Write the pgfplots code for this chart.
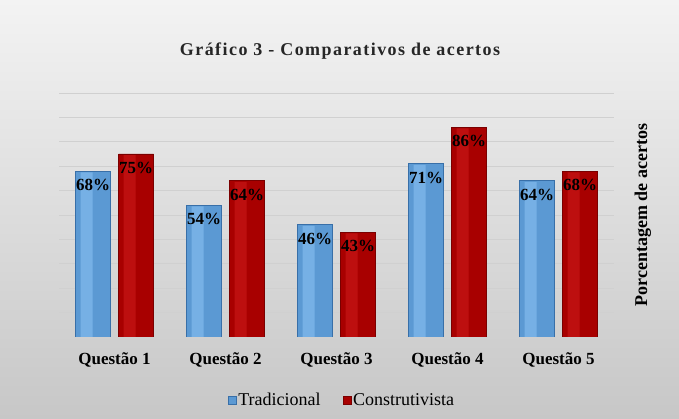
\documentclass[border=0pt]{standalone}
\usepackage{fontspec}
\setmainfont{Liberation Serif}
\newfontfamily\titlefont[LetterSpace=8]{Liberation Serif}
\usepackage{pgfplots}
\pgfplotsset{compat=1.18}
\definecolor{bgtop}{HTML}{F3F3F3}
\definecolor{bgbot}{HTML}{C7C7C7}
\definecolor{gridc}{HTML}{D0D0D0}
\definecolor{bluM}{HTML}{5B99D3}
\definecolor{bluL}{HTML}{80B9EC}
\definecolor{bluD}{HTML}{386FA8}
\definecolor{redM}{HTML}{A80000}
\definecolor{redL}{HTML}{CC1A1A}
\definecolor{redD}{HTML}{7A0000}

\begin{document}
\begin{tikzpicture}
\shade[top color=bgtop, bottom color=bgbot] (0,0) rectangle (679pt,419pt);
\node[font=\titlefont\bfseries\fontsize{18}{21}\selectfont, text=black!85] at (340pt,368pt) {Gráfico 3 - Comparativos de acertos};
\begin{axis}[
  at={(59pt,82pt)}, anchor=south west,
  scale only axis, width=555pt, height=244pt,
  ybar, bar width=35pt,
  xmin=-0.5, xmax=4.5, ymin=0, ymax=100,
  xtick={0,1,2,3,4}, xticklabels={Questão 1,Questão 2,Questão 3,Questão 4,Questão 5},
  x tick label style={font=\bfseries\fontsize{17}{20}\selectfont, yshift=-12pt},
  ytick={0,10,...,100}, yticklabels={},
  major tick length=0pt,
  ymajorgrids, grid style={gridc, line width=0.9pt},
  axis line style={draw=none},
  ylabel={\bfseries Porcentagem de acertos},
  ylabel style={at={(rel axis cs:1.052,0.5)}, anchor=center, font=\fontsize{18}{21}\selectfont},
  /pgf/number format/assume math mode=true,
  every node near coord/.append style={anchor=north, inner sep=1pt, yshift=-5pt,
    font=\bfseries\fontsize{17}{20}\selectfont, text=black},
  legend style={at={(0.51,-0.258)}, anchor=center, legend columns=2,
    draw=none, fill=none, font=\fontsize{18}{21}\selectfont,
    /tikz/every even column/.append style={column sep=20pt}},
  legend image code/.code={\draw[#1, line width=0.4pt] (0pt,-4pt) rectangle (8pt,4pt);},
]
% Tradicional
\addplot[bar shift=-21.5pt, draw=bluD, line width=0.7pt, fill=bluM]
  coordinates {(0,68) (1,54) (2,46) (3,71) (4,64)};
\addlegendentry{Tradicional}
\addplot[forget plot, bar shift=-28pt, bar width=12pt, draw=none, fill=bluL, fill opacity=0.75,
  point meta=explicit,
  nodes near coords={\pgfmathprintnumber{\pgfplotspointmeta}\%},
  every node near coord/.append style={xshift=6.5pt, yshift=-0.6pt, text opacity=1}]
  coordinates {(0,67.5) [68] (1,53.5) [54] (2,45.5) [46] (3,70.5) [71] (4,63.5) [64]};
% Construtivista
\addplot[bar shift=21.5pt, draw=redD, line width=0.7pt, fill=redM]
  coordinates {(0,75) (1,64) (2,43) (3,86) (4,68)};
\addlegendentry{Construtivista}
\addplot[forget plot, bar shift=15pt, bar width=12pt, draw=none, fill=redL, fill opacity=0.6,
  point meta=explicit,
  nodes near coords={\pgfmathprintnumber{\pgfplotspointmeta}\%},
  every node near coord/.append style={xshift=6.5pt, yshift=-0.6pt, text opacity=1}]
  coordinates {(0,74.5) [75] (1,63.5) [64] (2,42.5) [43] (3,85.5) [86] (4,67.5) [68]};
\end{axis}
\end{tikzpicture}
\end{document}
